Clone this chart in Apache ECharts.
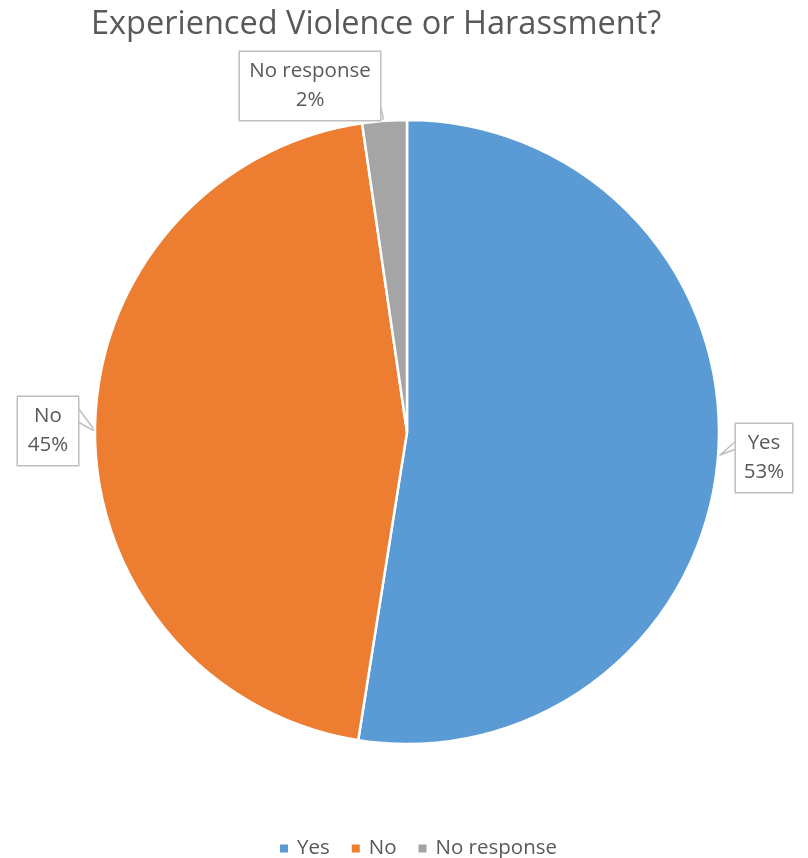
<!DOCTYPE html>
<html lang="en">
<head>
    <meta charset="UTF-8">
    <title>Experienced Violence or Harassment?</title>
    <script src="https://cdn.jsdelivr.net/npm/echarts@6/dist/echarts.min.js"></script>
    <style>
        html, body { margin: 0; padding: 0; background: #fff; }
        #main { width: 808px; height: 858px; }
    </style>
</head>
<body>
<div id="main"></div>
<script type="text/javascript">
    // chart data
    var categories = ['Yes', 'No', 'No response'];
    var shares = [52.5, 45.2, 2.3];
    var colors = ['#5B9BD5', '#ED7D31', '#A5A5A5'];

    // callout boxes: centre, width, and the pointer (box edge -> tip -> box edge)
    var boxPos = [[764, 458], [48, 431], [310, 86]];
    var boxW = [56, 60, 140];
    var pointers = [
        [[736, 441], [720, 455], [736, 449]],
        [[78, 408], [96, 432], [78, 422]],
        [[378, 96], [384, 121], [380, 119]]
    ];

    var myChart = echarts.init(document.getElementById('main'));
    var font = 'Open Sans';

    var pieData = categories.map(function (name, i) {
        return {
            name: name,
            value: shares[i],
            itemStyle: { color: colors[i] },
            label: { width: boxW[i] - 14 }
        };
    });

    var option = {
        animation: false,
        title: {
            text: 'Experienced Violence or Harassment?',
            left: 86,
            top: 3,
            textStyle: { fontFamily: font, fontSize: 32.5, fontWeight: 'normal', color: '#595959' }
        },
        legend: {
            bottom: -6,
            left: 273,
            icon: 'rect',
            itemWidth: 10,
            itemHeight: 10,
            itemGap: 20,
            textStyle: { fontFamily: font, fontSize: 20.5, color: '#595959', padding: [0, 0, 0, 3] },
            data: categories
        },
        series: [
            {
                type: 'pie',
                center: [407, 432],
                radius: 312,
                startAngle: 90,
                clockwise: true,
                data: pieData,
                itemStyle: { borderColor: '#fff', borderWidth: 2.5 },
                label: {
                    show: true,
                    position: 'outside',
                    overflow: 'none',
                    formatter: function (p) {
                        return p.name + '\n' + Math.round(p.percent) + '%';
                    },
                    fontFamily: font,
                    fontSize: 20.5,
                    lineHeight: 29,
                    color: '#595959',
                    align: 'center',
                    backgroundColor: '#fff',
                    borderColor: '#BFBFBF',
                    borderWidth: 1.5,
                    padding: [6, 7, 4, 7]
                },
                labelLine: {
                    show: true,
                    lineStyle: { color: '#BFBFBF', width: 1.5 }
                },
                labelLayout: function (params) {
                    var i = params.dataIndex;
                    return {
                        x: boxPos[i][0],
                        y: boxPos[i][1],
                        align: 'center',
                        verticalAlign: 'middle',
                        labelLinePoints: pointers[i]
                    };
                }
            }
        ]
    };

    myChart.setOption(option);
</script>
</body>
</html>
